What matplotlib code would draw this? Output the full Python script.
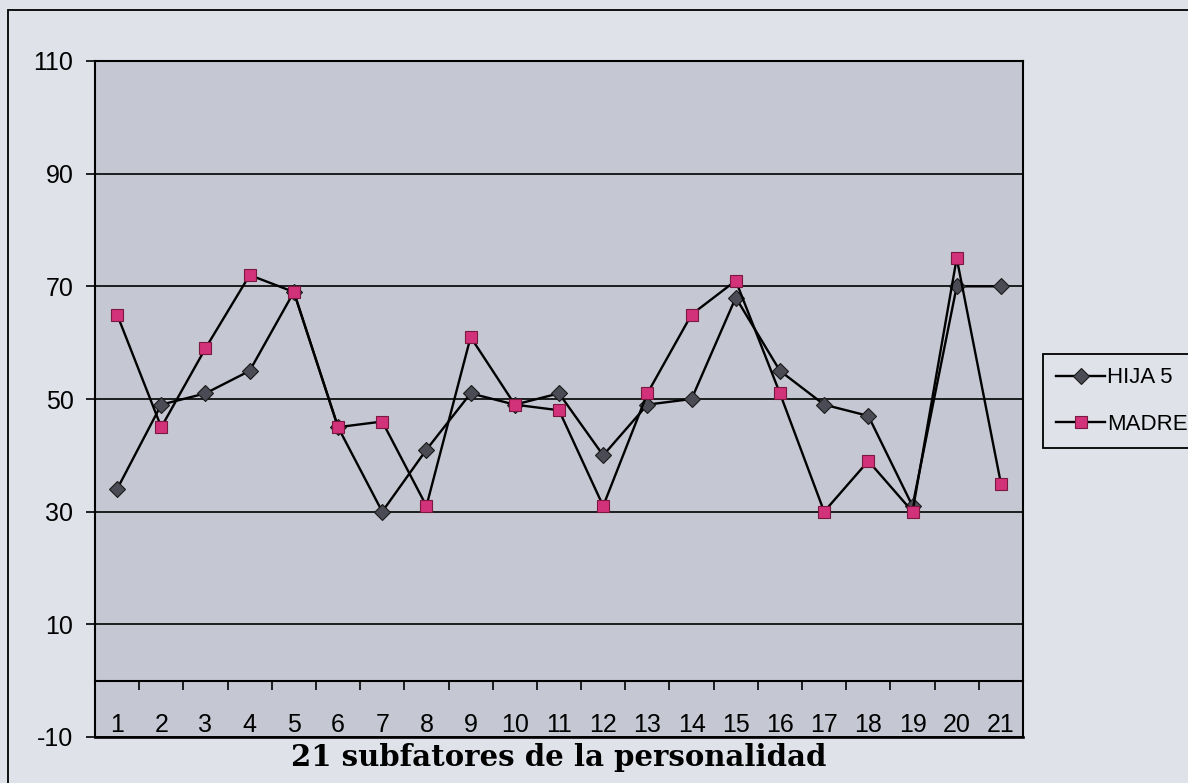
import matplotlib
matplotlib.use("Agg")
import matplotlib.pyplot as plt
from matplotlib.patches import Rectangle

categories = list(range(1, 22))
hija5 = [34, 49, 51, 55, 69, 45, 30, 41, 51, 49, 51, 40, 49, 50, 68, 55, 49, 47, 31, 70, 70]
madre = [65, 45, 59, 72, 69, 45, 46, 31, 61, 49, 48, 31, 51, 65, 71, 51, 30, 39, 30, 75, 35]
y_ticks = [-10, 10, 30, 50, 70, 90, 110]
x_title = "21 subfatores de la personalidad"
series_names = ["HIJA 5", "MADRE"]

sans = "Liberation Sans"
serif = "DejaVu Serif"

fig_bg = "#e0e2ea"
plot_bg = "#c5c7d2"

fig = plt.figure(figsize=(11.88, 7.83), dpi=100, facecolor=fig_bg)
W, H = 1188, 783
L, R, T, B = 95, 1023, 61, 737
ax = fig.add_axes([L / W, 1 - B / H, (R - L) / W, (B - T) / H])
ax.set_facecolor(plot_bg)

# outer chart border (partially cropped in the reference)
fig.patches.append(Rectangle((8 / W, -0.1), 1.2, 1 - 10 / H + 0.1, transform=fig.transFigure,
                             fill=False, edgecolor="black", linewidth=1.3, zorder=0))

ax.plot(categories, hija5, color="black", linewidth=1.7, marker="D", markersize=8.5,
        markerfacecolor="#4a4b54", markeredgecolor="#1a1a1a", markeredgewidth=0.8,
        label=series_names[0], zorder=3)
ax.plot(categories, madre, color="black", linewidth=1.7, marker="s", markersize=8.5,
        markerfacecolor="#d2327a", markeredgecolor="#7a1840", markeredgewidth=0.8,
        label=series_names[1], zorder=3)

ax.set_xlim(0.5, 21.5)
ax.set_ylim(-10, 110)

ax.set_yticks(y_ticks)
ax.set_yticklabels([str(v) for v in y_ticks], fontfamily=sans, fontsize=18)
ax.tick_params(axis="y", direction="out", length=6.5, width=1.2, pad=9, color="black")
ax.yaxis.grid(True, color="black", linewidth=1.2)
ax.set_axisbelow(True)

ax.spines["bottom"].set_position(("data", 0))
for s in ["top", "left", "right", "bottom"]:
    ax.spines[s].set_linewidth(1.5)
    ax.spines[s].set_color("black")
ax.axhline(-10, color="black", linewidth=1.9, clip_on=False, zorder=4)

ax.set_xticks(categories)
ax.set_xticklabels([str(c) for c in categories], fontfamily=sans, fontsize=18)
ax.tick_params(axis="x", which="major", length=0, pad=23)
ax.set_xticks([c + 0.5 for c in categories[:-1]], minor=True)
ax.tick_params(axis="x", which="minor", direction="out", length=6.5, width=1.2, color="black")

fig.text((L + R) / 2 / W, 1 - 757 / H, x_title, ha="center", va="center",
         fontfamily=serif, fontweight="bold", fontsize=21)

leg = ax.legend(loc="upper left", bbox_to_anchor=(1043 / W, 1 - 354 / H),
                bbox_transform=fig.transFigure, prop={"family": sans, "size": 16},
                frameon=True, fancybox=False, framealpha=1, facecolor=fig_bg,
                edgecolor="black", handlelength=2.2, handletextpad=0.1,
                labelspacing=1.15, borderpad=0.6, borderaxespad=0)
leg.get_frame().set_linewidth(1.3)

fig.savefig("out.png", dpi=100, facecolor=fig_bg)
